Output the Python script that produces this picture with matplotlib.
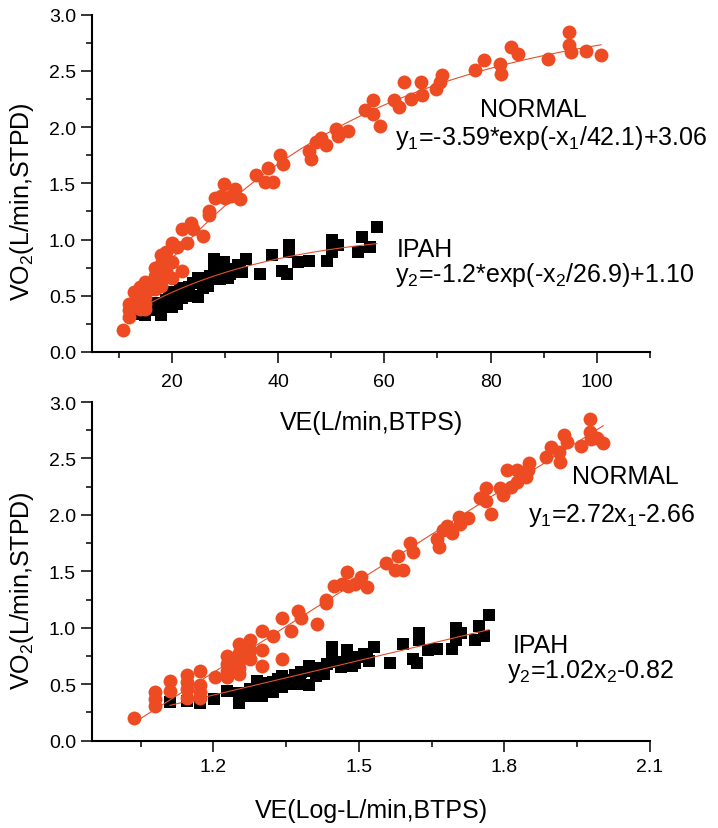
import numpy as np
import matplotlib.pyplot as plt
from matplotlib.ticker import FixedLocator, MultipleLocator, FormatStrFormatter

plt.rcParams['font.family'] = ['Liberation Sans', 'DejaVu Sans']
plt.rcParams['mathtext.fontset'] = 'custom'
plt.rcParams['mathtext.rm'] = 'Liberation Sans'

# NORMAL subjects: VE (L/min, BTPS) and VO2 (L/min, STPD)
normal_ve = [10.9, 12.0, 12.0, 12.0, 12.9, 12.9, 14.0, 14.0, 14.0, 14.0,
             14.9, 14.9, 14.9, 14.9, 16.0, 16.9, 16.9, 16.9, 16.9,
             17.9, 17.9, 17.9, 17.9, 17.9, 18.9, 18.9, 18.9,
             20.0, 20.0, 20.0, 21.0, 22.0, 22.0, 22.9, 23.7, 24.0, 25.9,
             27.0, 27.0, 28.1, 29.2, 29.9, 30.1, 31.1, 31.9, 32.9,
             35.9, 37.5, 38.1, 39.0, 40.3, 40.9, 45.9, 46.2, 47.2, 48.1,
             49.1, 50.9, 51.2, 53.1, 56.3, 57.8, 57.8, 59.1, 61.9, 62.8,
             63.8, 65.1, 66.9, 67.1, 69.8, 70.4, 70.9, 77.0, 78.8, 81.7,
             82.0, 83.9, 85.1, 90.8, 94.8, 94.8, 95.2, 98.0, 100.8]
normal_vo2 = [0.20, 0.43, 0.37, 0.31, 0.53, 0.44, 0.58, 0.52, 0.46, 0.38,
              0.62, 0.49, 0.43, 0.38, 0.56, 0.75, 0.68, 0.62, 0.56,
              0.86, 0.78, 0.71, 0.64, 0.59, 0.89, 0.80, 0.72,
              0.97, 0.80, 0.66, 0.93, 1.09, 0.72, 0.97, 1.15, 1.09, 1.03,
              1.25, 1.22, 1.37, 1.39, 1.49, 1.37, 1.39, 1.45, 1.36,
              1.57, 1.51, 1.64, 1.51, 1.75, 1.67, 1.79, 1.72, 1.87, 1.90,
              1.84, 1.98, 1.92, 1.97, 2.15, 2.24, 2.12, 2.01, 2.24, 2.18,
              2.40, 2.25, 2.40, 2.29, 2.34, 2.40, 2.46, 2.51, 2.60, 2.56,
              2.47, 2.71, 2.65, 2.61, 2.85, 2.73, 2.67, 2.68, 2.64]

# IPAH patients
ipah_ve = [12.9, 14.0, 14.9, 15.9, 16.9, 17.9, 17.9, 18.9, 18.9,
           19.5, 20.0, 20.0, 20.0, 21.0, 21.0, 21.5, 22.0, 22.0, 22.7,
           23.0, 23.3, 23.9, 24.0, 24.9, 24.9, 25.3, 25.8, 26.2, 26.8,
           27.2, 27.9, 27.9, 28.5, 29.0, 29.9, 29.9, 30.6, 31.0, 31.6,
           32.4, 32.8, 33.2, 34.0, 36.7, 38.9, 40.8, 41.7, 42.0, 42.0,
           43.8, 45.9, 49.3, 50.1, 50.1, 51.3, 55.0, 55.9, 57.3, 58.6]
ipah_vo2 = [0.34, 0.35, 0.33, 0.37, 0.44, 0.33, 0.42, 0.46, 0.40,
            0.53, 0.51, 0.46, 0.40, 0.52, 0.43, 0.55, 0.57, 0.48, 0.50,
            0.54, 0.58, 0.50, 0.61, 0.49, 0.66, 0.62, 0.57, 0.64, 0.59,
            0.68, 0.83, 0.72, 0.70, 0.65, 0.80, 0.72, 0.66, 0.69, 0.74,
            0.77, 0.75, 0.71, 0.83, 0.69, 0.86, 0.72, 0.69, 0.95, 0.89,
            0.80, 0.81, 0.81, 0.89, 1.00, 0.95, 0.89, 1.02, 0.93, 1.11]

# fitted models printed on the chart
normal_exp = (-3.59, 42.1, 3.06)   # y = a*exp(-x/t)+c
ipah_exp = (-1.2, 26.9, 1.10)
normal_lin = (2.72, -2.66)         # y = k*x+b
ipah_lin = (1.02, -0.82)

top_xticks = [20, 40, 60, 80, 100]
top_xminor = [10, 30, 50, 70, 90, 110]
bot_xticks = [1.2, 1.5, 1.8, 2.1]
bot_xminor = [1.05, 1.35, 1.65, 1.95]

ORANGE = '#EE4B22'
FITCOL = '#E3502C'


def style_axes(ax, xlim, xticks, xminor, xfmt, xpad):
    for s in ['top', 'right']:
        ax.spines[s].set_visible(False)
    for s in ['left', 'bottom']:
        ax.spines[s].set_linewidth(1.5)
    ax.set_xlim(*xlim)
    ax.set_ylim(0, 3)
    ax.xaxis.set_major_locator(FixedLocator(xticks))
    ax.xaxis.set_minor_locator(FixedLocator(xminor))
    ax.xaxis.set_major_formatter(FormatStrFormatter(xfmt))
    ax.yaxis.set_major_locator(MultipleLocator(0.5))
    ax.yaxis.set_minor_locator(MultipleLocator(0.25))
    ax.yaxis.set_major_formatter(FormatStrFormatter('%.1f'))
    ax.tick_params(which='major', direction='out', length=8, width=1.1,
                   labelsize=14)
    ax.tick_params(axis='x', which='major', pad=xpad)
    ax.tick_params(which='minor', direction='out', length=4.5, width=1.1)


fig = plt.figure(figsize=(7.18, 8.29), dpi=100)
W, H = 718, 829
ax1 = fig.add_axes([92 / W, 1 - 353 / H, 558 / W, 337.3 / H])
ax2 = fig.add_axes([92 / W, 1 - 741.7 / H, 558 / W, 338.7 / H])

nve = np.array(normal_ve)
ive = np.array(ipah_ve)

# top: linear VE
ax1.plot(ive, ipah_vo2, 's', color='black', ms=8, mew=0, zorder=2)
ax1.plot(nve, normal_vo2, 'o', color=ORANGE, ms=10, mew=0, zorder=3)
xa = np.linspace(nve.min(), nve.max(), 200)
a, t, c = normal_exp
ax1.plot(xa, a * np.exp(-xa / t) + c, color=FITCOL, lw=0.8, zorder=4)
xb = np.linspace(15.5, ive.max(), 200)
a, t, c = ipah_exp
ax1.plot(xb, a * np.exp(-xb / t) + c, color=FITCOL, lw=0.8, zorder=4)
style_axes(ax1, (5, 110), top_xticks, top_xminor, '%d', 7)

ax1.text(78.0, 2.10, 'NORMAL', fontsize=18, va='baseline')
ax1.text(62.0, 1.85, r'y$\mathregular{_1}$=-3.59*exp(-x$\mathregular{_1}$/42.1)+3.06',
         fontsize=18, va='baseline')
ax1.text(62.4, 0.854, 'IPAH', fontsize=18, va='baseline')
ax1.text(62.0, 0.634, r'y$\mathregular{_2}$=-1.2*exp(-x$\mathregular{_2}$/26.9)+1.10',
         fontsize=18, va='baseline')

# bottom: log VE
lnve = np.log10(nve)
live = np.log10(ive)
ax2.plot(live, ipah_vo2, 's', color='black', ms=8, mew=0, zorder=2)
ax2.plot(lnve, normal_vo2, 'o', color=ORANGE, ms=10, mew=0, zorder=3)
xa = np.array([lnve.min(), lnve.max()])
ax2.plot(xa, normal_lin[0] * xa + normal_lin[1], color=FITCOL, lw=0.8, zorder=4)
xb = np.array([live.min(), live.max()])
ax2.plot(xb, ipah_lin[0] * xb + ipah_lin[1], color=FITCOL, lw=0.8, zorder=4)
style_axes(ax2, (0.95, 2.1), bot_xticks, bot_xminor, '%.1f', 4.5)

ax2.text(1.939, 2.28, 'NORMAL', fontsize=18, va='baseline')
ax2.text(1.849, 1.95, r'y$\mathregular{_1}$=2.72x$\mathregular{_1}$-2.66',
         fontsize=18, va='baseline')
ax2.text(1.818, 0.783, 'IPAH', fontsize=18, va='baseline')
ax2.text(1.805, 0.561, r'y$\mathregular{_2}$=1.02x$\mathregular{_2}$-0.82',
         fontsize=18, va='baseline')

# axis titles
fig.text(372 / W, 1 - 430 / H, 'VE(L/min,BTPS)', fontsize=18,
         ha='center', va='baseline')
fig.text(371 / W, 1 - 818 / H, 'VE(Log-L/min,BTPS)', fontsize=18,
         ha='center', va='baseline')
fig.text(22 / W, 1 - 202 / H, r'VO$\mathregular{_2}$(L/min,STPD)', fontsize=18,
         rotation=90, ha='center', va='center')
fig.text(22 / W, 1 - 591 / H, r'VO$\mathregular{_2}$(L/min,STPD)', fontsize=18,
         rotation=90, ha='center', va='center')

fig.savefig('out.png', dpi=100)
